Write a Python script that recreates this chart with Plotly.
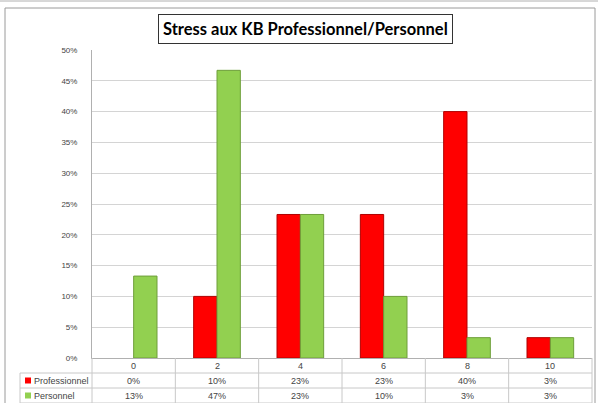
import plotly.graph_objects as go

categories = ["0", "2", "4", "6", "8", "10"]
professionnel = [0.0, 0.10, 0.233, 0.233, 0.40, 0.033]
personnel = [0.133, 0.467, 0.233, 0.10, 0.033, 0.033]
series_names = ["Professionnel", "Personnel"]
title_text = "Stress aux KB Professionnel/Personnel"

W, H = 598, 403
L, R, T, B = 92, 6, 50, 45
PW, PH = W - L - R, H - T - B


def px(x):
    return (x - L) / PW


def py(y):
    return (H - B - y) / PH


RED, RED_LINE = "#ff0000", "#b00000"
GREEN, GREEN_LINE = "#92d050", "#6e9e3a"
GRID = "#d4d4d4"
TXT = "#444444"
FONT = "Liberation Sans"

fig = go.Figure()
fig.add_bar(x=categories, y=professionnel, name=series_names[0],
            marker=dict(color=RED, line=dict(color=RED_LINE,
                                             width=[1 if v > 0 else 0 for v in professionnel])))
fig.add_bar(x=categories, y=personnel, name=series_names[1],
            marker=dict(color=GREEN, line=dict(color=GREEN_LINE,
                                               width=[1 if v > 0 else 0 for v in personnel])))

shapes = []
annotations = []

# outer chart border
shapes.append(dict(type="rect", xref="paper", yref="paper",
                   x0=px(5), x1=px(595), y0=py(410), y1=py(8),
                   line=dict(color="#9a9a9a", width=1), layer="below"))
shapes.append(dict(type="line", xref="paper", yref="paper",
                   x0=px(0), x1=px(598), y0=py(1), y1=py(1),
                   line=dict(color="#b0b0b0", width=1)))

# data table grid
row_tops = [358, 373, 388, 403]
ncat = len(categories)
for i in range(ncat + 1):
    xx = px(L + PW * i / ncat)
    shapes.append(dict(type="line", xref="paper", yref="paper",
                       x0=xx, x1=xx, y0=py(358), y1=py(403),
                       line=dict(color="#c8c8c8", width=1)))
for yy in row_tops[1:]:
    shapes.append(dict(type="line", xref="paper", yref="paper",
                       x0=px(20), x1=px(592), y0=py(yy), y1=py(yy),
                       line=dict(color="#c8c8c8", width=1)))
shapes.append(dict(type="line", xref="paper", yref="paper",
                   x0=px(20), x1=px(20), y0=py(373), y1=py(403),
                   line=dict(color="#c8c8c8", width=1)))

# header row (categories)
for i, c in enumerate(categories):
    annotations.append(dict(x=i, y=py(366), xref="x", yref="paper", text=c,
                            xanchor="center", yanchor="middle",
                            showarrow=False, font=dict(size=9, color=TXT, family=FONT)))

# series rows
rows = [(series_names[0], professionnel, RED, 380.5), (series_names[1], personnel, GREEN, 395.5)]
for name, vals, col, yc in rows:
    shapes.append(dict(type="rect", xref="paper", yref="paper",
                       x0=px(25), x1=px(31), y0=py(yc + 3), y1=py(yc - 3),
                       fillcolor=col, line=dict(width=0)))
    annotations.append(dict(x=px(32), y=py(yc), xref="paper", yref="paper", text=name,
                            xanchor="left", yanchor="middle", showarrow=False,
                            font=dict(size=9, color=TXT, family=FONT)))
    for i, v in enumerate(vals):
        annotations.append(dict(x=i, y=py(yc), xref="x", yref="paper", text=f"{v:.0%}",
                                xanchor="center", yanchor="middle",
                                showarrow=False, font=dict(size=9, color=TXT, family=FONT)))

# title box
annotations.append(dict(x=px(305), y=py(28.5), xref="paper", yref="paper",
                        text="<b>" + title_text + "</b>", showarrow=False,
                        xanchor="center", yanchor="middle",
                        font=dict(size=16.5, color="black", family="Lato"),
                        bordercolor="#333333", borderwidth=1, borderpad=4,
                        bgcolor="white"))

fig.update_layout(
    width=W, height=H,
    margin=dict(l=L, r=R, t=T, b=B),
    paper_bgcolor="white", plot_bgcolor="white",
    barmode="group", bargap=0.44, bargroupgap=0.0,
    showlegend=False,
    shapes=shapes, annotations=annotations,
    xaxis=dict(type="category", range=[-0.5, len(categories) - 0.5],
               showticklabels=False, showgrid=False,
               showline=True, linecolor="#b0b0b0", linewidth=1, ticks="",
               zeroline=False),
    yaxis=dict(range=[0, 0.5], dtick=0.05, tickformat=".0%",
               showgrid=True, gridcolor=GRID, gridwidth=1,
               showline=True, linecolor="#b0b0b0", linewidth=1,
               zeroline=False, ticks="", ticklabelstandoff=12,
               tickfont=dict(size=8, color=TXT, family=FONT)),
)

fig.write_html("out.html", config={"displayModeBar": False},
               post_script="document.body.style.margin='0px';document.body.style.overflow='hidden';")
